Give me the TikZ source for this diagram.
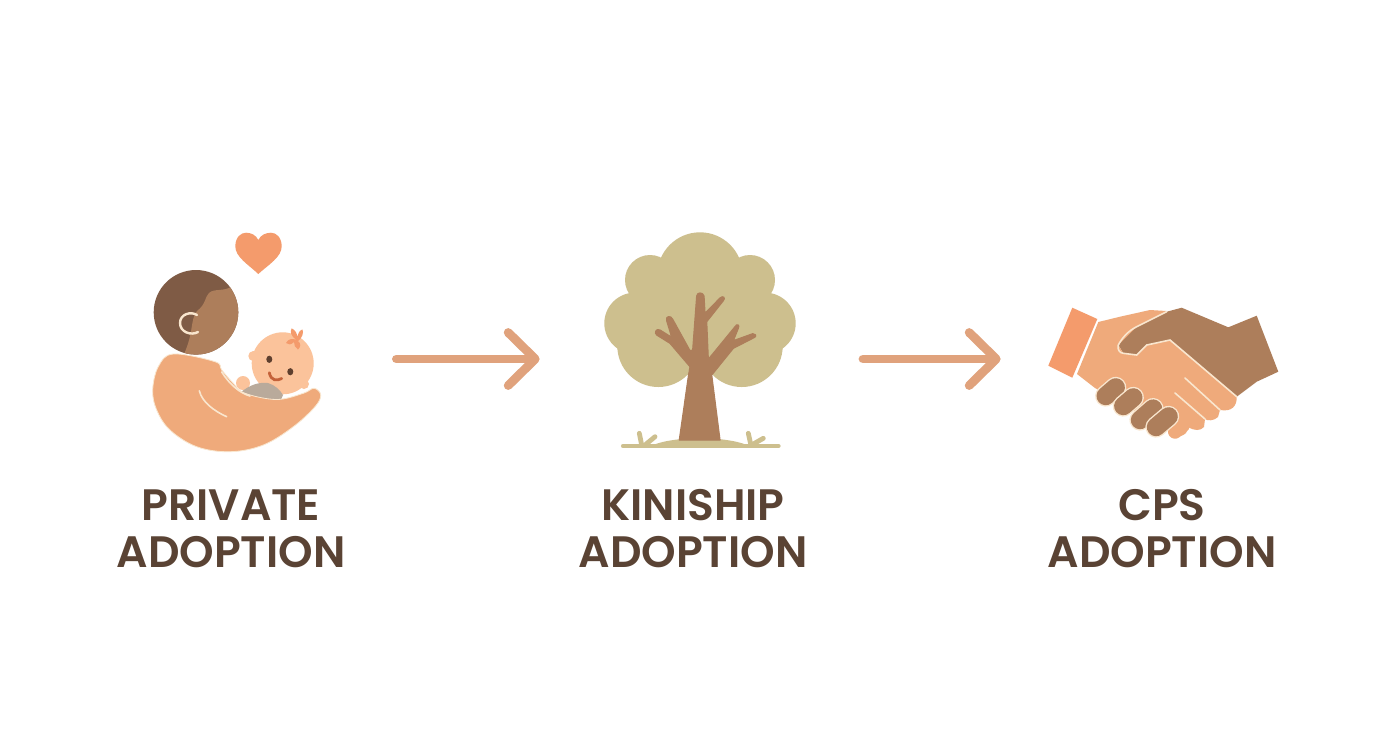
\documentclass[tikz,border=0pt]{standalone}
\usepackage{fontspec}
\setmainfont{Poppins}[BoldFont={Poppins SemiBold}]
\usetikzlibrary{arrows.meta}

\definecolor{hairbrown}{HTML}{7F5B45}
\definecolor{darkskin}{HTML}{AD7E5B}
\definecolor{lightskin}{HTML}{EFAA7B}
\definecolor{babyskin}{HTML}{FBC39B}
\definecolor{accent}{HTML}{F49B6C}
\definecolor{cream}{HTML}{F9E6CE}
\definecolor{leaf}{HTML}{CDBF8E}
\definecolor{flow}{HTML}{E0A27C}
\definecolor{labeltext}{HTML}{5A4334}
\definecolor{babysuit}{HTML}{B9AA9B}
\definecolor{babyeye}{HTML}{5E3F2E}
\definecolor{babymouth}{HTML}{C4623A}

\tikzset{
    iconbox/.style={minimum height=10, inner sep=0pt},
    flowarrow/.style={flow, line width=4.4pt, line cap=round, line join=round, -{Straight Barb[length=13.5pt, width=26.5pt, line width=4.4pt, round]}},
    kindlabel/.style={text=labeltext, font=\fontsize{22}{23.5}\selectfont\bfseries, align=center, inner sep=0pt},
    fingerback/.style={cream, line width=10.6pt, line cap=round},
    fingerfront/.style={darkskin, line width=9.2pt, line cap=round},
    creamline/.style={cream, line width=0.8pt, line cap=round},
    grass/.style={leaf, line width=2.4pt, line cap=round}
}

\begin{document}
\begin{tikzpicture}[x=0.5pt, y=-0.5pt]

    \useasboundingbox[fill=white] (0,0) rectangle (1392,752);

    % Nodes
    \node[iconbox, minimum width=164pt] (private) at (232,359) {};
    \node[iconbox, minimum width=161.3pt] (kinship) at (701.3,359) {};
    \node[iconbox, minimum width=162pt] (cps) at (1163,359) {};

    \node[kindlabel] (privatelabel) at (231,529) {PRIVATE\\ADOPTION};
    \node[kindlabel] (kinshiplabel) at (693,529) {KINISHIP\\ADOPTION};
    \node[kindlabel] (cpslabel) at (1162,529) {CPS\\ADOPTION};

    % Edges
    \draw[flowarrow] (private.east) -- (kinship.west);
    \draw[flowarrow] (kinship.east) -- (cps.west);

    % Heart
    \fill[accent] (258.3,274) .. controls (249,265) and (235,257) .. (235.3,246)
        .. controls (235.5,237) and (241,232.7) .. (246,232.7)
        .. controls (251,232.7) and (256,235) .. (258.3,240)
        .. controls (260.5,235) and (266,232.7) .. (271,232.7)
        .. controls (276,232.7) and (281.5,237) .. (281.7,246)
        .. controls (282,257) and (268,265) .. (258.3,274) -- cycle;

    % Parent head
    \fill[hairbrown] (196,312.3) circle[radius=42.3];
    \begin{scope}
        \clip (196,312.3) circle[radius=42.3];
        \fill[darkskin] (232,286) .. controls (225,292) and (214,288) .. (209,293)
            .. controls (204,299) and (206,304) .. (197,311)
            .. controls (190,320) and (194,332) .. (184,354)
            -- (245,360) -- (245,280) -- cycle;
    \end{scope}
    \draw[cream, line width=1.2pt, line cap=round] (197,315) .. controls (191,311) and (180,314) .. (180,323)
        .. controls (180,332) and (191,336) .. (198,332);

    % Baby
    \fill[babyskin] (253.3,356) circle[radius=5];
    \fill[babyskin] (282.7,363.3) circle[radius=31];
    \fill[babyskin] (304,384) circle[radius=5];
    \fill[babyskin] (243,383) circle[radius=7];
    \fill[babyeye] (269.3,359.3) ellipse[x radius=3, y radius=3.6];
    \fill[babyeye] (290.3,371.7) ellipse[x radius=3, y radius=3.6];
    \draw[babymouth, line width=1.4pt, line cap=round] (269.3,372.7) .. controls (271,381) and (277,381) .. (281.7,378.5);
    \fill[accent] (297,340) .. controls (290,336) and (290,331) .. (291.7,328.3)
        .. controls (295,330) and (297,333) .. (297.5,337)
        .. controls (298,333) and (300,330) .. (302.5,329.5)
        .. controls (304,333) and (302,338) .. (298,341)
        .. controls (301,343) and (301,347) .. (298,349.5)
        .. controls (295,348) and (294,345) .. (294,342)
        .. controls (291,345) and (288,345) .. (286,343)
        .. controls (288,339) and (292,338) .. (297,340) -- cycle;
    \fill[babysuit] (241,392) .. controls (250,385) and (258,382) .. (268,383)
        .. controls (275,385) and (280,390) .. (283,395) -- (280,402) -- (250,400) -- cycle;

    % Parent arm
    \filldraw[fill=lightskin, draw=cream, line width=0.4pt] plot[smooth cycle, tension=0.6] coordinates {
        (173.3,354) (215,361.7) (221.7,370) (233.3,383.3) (245,393.3) (276.7,399.5)
        (303.3,393.3) (314,388.3) (320.7,395) (315,406.7) (293.3,426.7) (263.3,445)
        (230,451.7) (196.7,446.7) (170,430) (156.7,410) (152.7,390) (158.3,366.7)};
    \draw[creamline] (199.3,390.7) .. controls (202,402) and (214,411) .. (226.7,416.7);
    \draw[creamline] (221.7,372) .. controls (230,385) and (240,393) .. (250,396);

    % Tree crown
    \foreach \cx/\cy/\cr in {700/275/42.7, 650/280/25, 750/280/25, 635/323.3/30.7,
        765/323.3/30.7, 658.3/346/41, 741.7/346/41, 700/320/56} {
        \fill[leaf] (\cx,\cy) circle[radius=\cr];
    }

    % Ground
    \draw[leaf, line width=2.4pt, line cap=round] (623.3,446) -- (778.3,446);
    \fill[leaf] (653,445) .. controls (675,436) and (725,436) .. (747,445) -- cycle;
    \draw[grass] (639.3,433.3) -- (641.7,445);
    \draw[grass] (655,436.7) -- (645,445);
    \draw[grass] (748.3,433.3) -- (750.7,444);
    \draw[grass] (763.3,438.3) -- (753.3,444);

    % Tree trunk
    \filldraw[fill=darkskin, draw=darkskin, line width=0.6pt, line join=round] (679.3,440) -- (688.3,376.7) -- (690,366.7) -- (670,343.3) -- (656.7,335)
        .. controls (654,333) and (656,328) .. (660,330) -- (671.7,337.3) -- (666.7,320.7)
        .. controls (665,316) and (671,315) .. (672.7,319.3) -- (690,350.7) -- (692.7,350) -- (696.7,296)
        .. controls (697,292) and (703,292) .. (704,296) -- (705,313.3) -- (720,298)
        .. controls (723,295) and (726,298) .. (723.3,300.7) -- (706.7,321.7) -- (708.3,359.3) -- (735,326.7)
        .. controls (737,323) and (740,325) .. (738.3,328.3) -- (733.3,340.7) -- (752.7,333.7)
        .. controls (755,333) and (757,336) .. (754.7,337.3) -- (733.3,348.3) -- (711.7,375) -- (720,440) -- cycle;

    % Handshake
    \fill[darkskin] (1118.3,345) .. controls (1125,335) and (1130,330) .. (1136.7,326.7) -- (1166.7,311.7) -- (1181.7,307.7)
        -- (1228.3,327.3) -- (1256.7,315.7) -- (1278.3,371.7) -- (1256.7,381.7) -- (1236.7,396.7)
        -- (1170,340) -- (1146.7,345) -- (1136.7,355) -- (1123.3,353.3) -- cycle;
    \fill[lightskin] (1098.3,322) -- (1120,316.7) -- (1150,310) -- (1166.7,311) -- (1136.7,326.7) -- (1118.3,345)
        -- (1123.3,353.3) -- (1136.7,355) -- (1146.7,345) -- (1170,340) -- (1236.7,396.7)
        .. controls (1237,406) and (1232,412) .. (1220,410) -- (1218,417) .. controls (1214,421) and (1207,421) .. (1205,419)
        -- (1204,427) .. controls (1200,431) and (1195,431) .. (1188,427) -- (1186,433) .. controls (1180,438) and (1176,437) .. (1170,431)
        -- (1095,388) -- (1077,374) -- cycle;
    \draw[fingerback] (1105.7,396) -- (1115.7,387.4);
    \draw[fingerfront] (1105.7,396) -- (1115.7,387.4);
    \draw[fingerback] (1123.3,406) -- (1133.3,397.4);
    \draw[fingerfront] (1123.3,406) -- (1133.3,397.4);
    \draw[fingerback] (1140,420) -- (1153,408.6);
    \draw[fingerfront] (1140,420) -- (1153,408.6);
    \draw[lightskin, line width=7pt, line cap=round] (1175,431.7) -- (1182.7,425.7);
    \draw[fingerback] (1156,427) -- (1168.6,416.4);
    \draw[fingerfront] (1156,427) -- (1168.6,416.4);
    \draw[creamline] (1166.7,311.7) -- (1136.7,326.7) .. controls (1128,331) and (1122,338) .. (1118.3,345)
        .. controls (1117,350) and (1120,353) .. (1123.3,353.3) -- (1136.7,355) -- (1146.7,345) -- (1170,340) -- (1236.7,396.7);
    \draw[creamline] (1185,378) -- (1220,410);
    \draw[creamline] (1175,393) -- (1205,419);
    \fill[accent] (1072.3,307.7) -- (1097.3,319) -- (1072.3,377.7) -- (1048.3,365.7) -- cycle;

\end{tikzpicture}
\end{document}
